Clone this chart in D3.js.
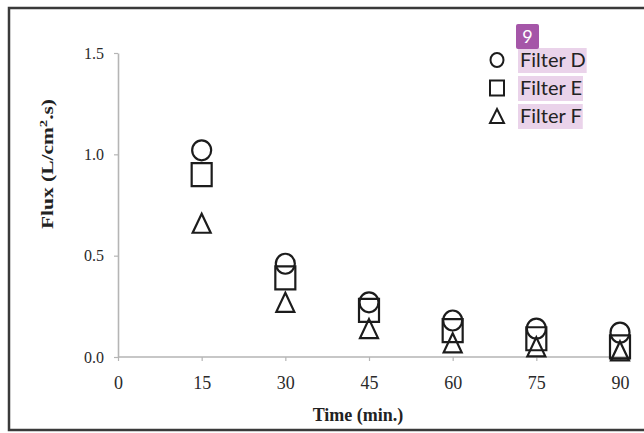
<!DOCTYPE html>
<html>
<head>
<meta charset="utf-8">
<script src="https://cdn.jsdelivr.net/npm/d3@7"></script>
<style>
  html, body { margin: 0; padding: 0; background: #fff; }
  svg { display: block; }
</style>
</head>
<body>
<svg id="chart" width="644" height="433"></svg>
<script>
// Sampling times (min.)
const times = [15, 30, 45, 60, 75, 90];
// Flux (L/cm².s) per filter
const filterD = [1.02, 0.46, 0.27, 0.18, 0.14, 0.12];
const filterE = [0.90, 0.39, 0.23, 0.13, 0.09, 0.05];
const filterF = [0.66, 0.27, 0.14, 0.07, 0.05, 0.03];
// Axis tick values
const xTicks = [0, 15, 30, 45, 60, 75, 90];
const yTicks = [0, 0.5, 1.0, 1.5];
const seriesNames = ["Filter D", "Filter E", "Filter F"];
const seriesShapes = ["circle", "square", "triangle"];

const svg = d3.select("#chart");
const ink = "#1c1c1c";
const axisGrey = "#b5b5b5";
const serif = "'Liberation Serif', 'Times New Roman', serif";

// Outer frame
svg.append("rect")
  .attr("x", 9).attr("y", 8)
  .attr("width", 660).attr("height", 422)
  .attr("fill", "none")
  .attr("stroke", "#3a3a3a")
  .attr("stroke-width", 2.5);

const x = d3.scaleLinear().domain([0, 90]).range([118, 620]);
const y = d3.scaleLinear().domain([0, 1.5]).range([357, 53]);

// Y axis
const yAxis = svg.append("g")
  .attr("transform", `translate(${x(0)},0)`)
  .call(d3.axisLeft(y).tickValues(yTicks).tickFormat(d3.format(".1f")).tickSize(4).tickSizeOuter(0).tickPadding(10));
yAxis.select(".domain").attr("stroke", axisGrey).attr("stroke-width", 1.6);
yAxis.selectAll(".tick line").attr("stroke", axisGrey).attr("stroke-width", 1.2);
yAxis.selectAll(".tick text")
  .attr("font-family", serif).attr("font-size", 16).attr("fill", "#2a2a2a");

// X axis
const xAxis = svg.append("g")
  .attr("transform", `translate(0,${y(0)})`)
  .call(d3.axisBottom(x).tickValues(xTicks).tickSize(4).tickSizeOuter(0).tickPadding(15));
xAxis.select(".domain").remove();
xAxis.append("line")
  .attr("x1", x(0)).attr("x2", x(90) + 11)
  .attr("y1", 0).attr("y2", 0)
  .attr("stroke", axisGrey).attr("stroke-width", 1.6);
xAxis.selectAll(".tick line").attr("stroke", axisGrey).attr("stroke-width", 1.2);
xAxis.selectAll(".tick text")
  .attr("font-family", serif).attr("font-size", 18).attr("fill", "#2a2a2a");

// Axis titles
svg.append("text")
  .attr("x", 358).attr("y", 421)
  .attr("text-anchor", "middle")
  .attr("font-family", serif).attr("font-weight", "bold").attr("font-size", 18)
  .attr("fill", "#222")
  .text("Time (min.)");

const yTitle = svg.append("text")
  .attr("transform", "translate(53,164) rotate(-90)")
  .attr("text-anchor", "middle")
  .attr("font-family", serif).attr("font-weight", "bold").attr("font-size", 16)
  .attr("textLength", 130).attr("lengthAdjust", "spacingAndGlyphs")
  .attr("fill", "#222");
yTitle.append("tspan").text("Flux (L/cm");
yTitle.append("tspan").attr("baseline-shift", "super").attr("font-size", 11).text("2");
yTitle.append("tspan").text(".s)");

// Marker path generators (centred on 0,0)
function markerPath(shape, w, h) {
  if (shape === "circle") {
    return `M${-w / 2},0 A${w / 2},${h / 2} 0 1,0 ${w / 2},0 A${w / 2},${h / 2} 0 1,0 ${-w / 2},0 Z`;
  }
  const p = d3.path();
  if (shape === "square") {
    p.rect(-w / 2, -h / 2, w, h);
  } else {
    p.moveTo(0, -h / 2);
    p.lineTo(w / 2, h / 2);
    p.lineTo(-w / 2, h / 2);
    p.closePath();
  }
  return p.toString();
}

const plotSizes = {
  circle: [19, 20],
  square: [20, 23],
  triangle: [18, 19]
};

const seriesValues = [filterD, filterE, filterF];

// Squares first, then triangles, then circles on top
[1, 2, 0].forEach(si => {
  const shape = seriesShapes[si];
  const [w, h] = plotSizes[shape];
  svg.append("g")
    .selectAll("path")
    .data(times.map((t, i) => ({ t, v: seriesValues[si][i] })))
    .join("path")
    .attr("transform", d => `translate(${x(d.t)},${y(d.v)})`)
    .attr("d", markerPath(shape, w, h))
    .attr("fill", "none")
    .attr("stroke", ink)
    .attr("stroke-width", 2.2);
});

// Legend
const legendX = 497;
const legendY = [60, 88, 116];
const legendSizes = { circle: [13, 14], square: [14, 15], triangle: [14, 14] };
const sans = "Lato, 'Open Sans', sans-serif";

seriesNames.forEach((name, i) => {
  const shape = seriesShapes[i];
  const [w, h] = legendSizes[shape];
  const g = svg.append("g");
  g.append("path")
    .attr("transform", `translate(${legendX},${legendY[i]})`)
    .attr("d", markerPath(shape, w, h))
    .attr("fill", "none")
    .attr("stroke", ink)
    .attr("stroke-width", 2);
  const hl = g.append("rect")
    .attr("x", 518).attr("y", legendY[i] - 12)
    .attr("height", 25)
    .attr("fill", "#ead3ea");
  const txt = g.append("text")
    .attr("x", 520).attr("y", legendY[i] + 7)
    .attr("font-family", sans).attr("font-size", 20)
    .attr("fill", "#222")
    .text(name);
  hl.attr("width", txt.node().getComputedTextLength() + 3);
});

// Numbered tag above the legend
svg.append("rect")
  .attr("x", 516).attr("y", 24)
  .attr("width", 23).attr("height", 25)
  .attr("rx", 2)
  .attr("fill", "#a556a8");
svg.append("text")
  .attr("x", 527.5).attr("y", 43)
  .attr("text-anchor", "middle")
  .attr("font-family", sans).attr("font-size", 18)
  .attr("fill", "#fff")
  .text("9");
</script>
</body>
</html>
